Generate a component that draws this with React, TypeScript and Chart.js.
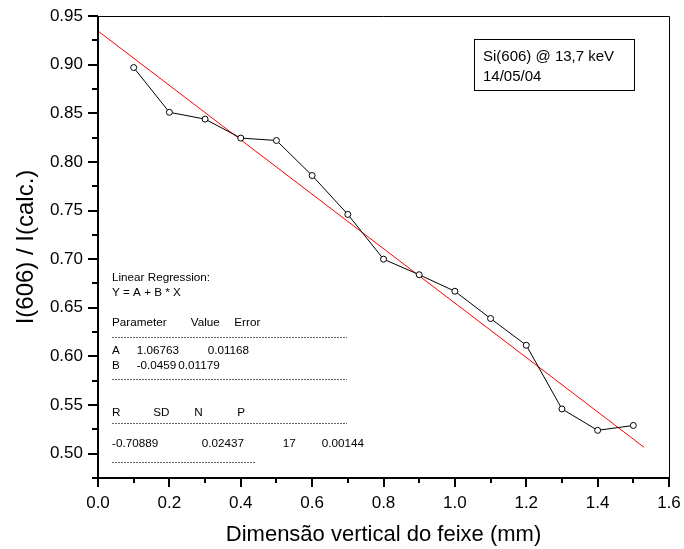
import React, { useEffect, useRef } from "react";
import { Chart, registerables } from "chart.js";

Chart.register(...registerables);

// ---- data ----
const xValues = [0.1, 0.2, 0.3, 0.4, 0.5, 0.6, 0.7, 0.8, 0.9, 1.0, 1.1, 1.2, 1.3, 1.4, 1.5];
const yValues = [0.897, 0.851, 0.844, 0.8245, 0.822, 0.786, 0.746, 0.7, 0.684, 0.667, 0.639, 0.6115, 0.546, 0.524, 0.529];
const fitX = [0, 1.53];
const fitY = [0.9346, 0.5066];

const xMajorTicks = [0, 0.2, 0.4, 0.6, 0.8, 1.0, 1.2, 1.4, 1.6];
const xMinorTicks = [0.1, 0.3, 0.5, 0.7, 0.9, 1.1, 1.3, 1.5];
const yMajorTicks = [0.5, 0.55, 0.6, 0.65, 0.7, 0.75, 0.8, 0.85, 0.9, 0.95];
const yMinorTicks = [0.475, 0.525, 0.575, 0.625, 0.675, 0.725, 0.775, 0.825, 0.875, 0.925];

const xTitle = "Dimensão vertical do feixe (mm)";
const yTitle = "I(606) / I(calc.)";
const boxLines = ["Si(606) @ 13,7 keV", "14/05/04"];

const regTitle = ["Linear Regression:", "Y = A + B * X"];
const paramHeader = ["Parameter", "Value", "Error"];
const paramA = ["A", "1.06763", "0.01168"];
const paramB = ["B", "-0.0459", "0.01179"];
const statHeader = ["R", "SD", "N", "P"];
const statValues = ["-0.70889", "0.02437", "17", "0.00144"];

const FONT = "'Liberation Sans', Arial, Helvetica, sans-serif";

const overlayPlugin = {
  id: "overlay",
  afterDraw(chart: any) {
    const { ctx, chartArea: a, scales } = chart;
    const xs = scales.x;
    const ys = scales.y;
    ctx.save();
    ctx.strokeStyle = "#000";
    ctx.lineWidth = 1;
    ctx.beginPath();
    ctx.moveTo(a.left, a.top + 0.5);
    ctx.lineTo(a.right + 0.5, a.top + 0.5);
    ctx.lineTo(a.right + 0.5, a.bottom);
    ctx.stroke();
    ctx.lineWidth = 2;
    ctx.beginPath();
    ctx.moveTo(a.left, a.top);
    ctx.lineTo(a.left, a.bottom);
    ctx.lineTo(a.right + 1, a.bottom);
    ctx.stroke();
    ctx.lineWidth = 2;
    ctx.beginPath();
    xMajorTicks.forEach((v) => {
      const p = Math.round(xs.getPixelForValue(v));
      ctx.moveTo(p, a.bottom);
      ctx.lineTo(p, a.bottom + 9);
    });
    xMinorTicks.forEach((v) => {
      const p = Math.round(xs.getPixelForValue(v));
      ctx.moveTo(p, a.bottom);
      ctx.lineTo(p, a.bottom + 5);
    });
    yMajorTicks.forEach((v) => {
      const p = Math.round(ys.getPixelForValue(v));
      ctx.moveTo(a.left, p);
      ctx.lineTo(a.left - 10, p);
    });
    yMinorTicks.forEach((v) => {
      const p = Math.round(ys.getPixelForValue(v));
      ctx.moveTo(a.left, p);
      ctx.lineTo(a.left - 6, p);
    });
    ctx.stroke();

    // annotation box
    ctx.lineWidth = 1;
    ctx.strokeRect(474.5, 39.5, 160, 51);
    ctx.fillStyle = "#000";
    ctx.font = `15px ${FONT}`;
    ctx.textBaseline = "alphabetic";
    ctx.textAlign = "left";
    ctx.fillText(boxLines[0], 483, 61);
    ctx.fillText(boxLines[1], 483, 81);

    // regression report
    const x0 = a.left + 14;
    ctx.font = `11.7px ${FONT}`;
    ctx.fillText(regTitle[0], x0, 281);
    ctx.fillText(regTitle[1], x0, 296);
    ctx.fillText(paramHeader[0], x0, 326);
    ctx.fillText(paramHeader[1], 190.7, 326);
    ctx.fillText(paramHeader[2], 234.3, 326);
    ctx.fillText(paramA[0], x0, 354);
    ctx.fillText(paramA[1], 136.7, 354);
    ctx.fillText(paramA[2], 207.7, 354);
    ctx.fillText(paramB[0], x0, 369);
    ctx.fillText(paramB[1], 136.7, 369);
    ctx.fillText(paramB[2], 136.7 + ctx.measureText(paramB[1]).width + 2, 369);
    ctx.fillText(statHeader[0], x0, 416);
    ctx.fillText(statHeader[1], 153.3, 416);
    ctx.fillText(statHeader[2], 194.3, 416);
    ctx.fillText(statHeader[3], 237.3, 416);
    ctx.fillText(statValues[0], x0, 447);
    ctx.fillText(statValues[1], 201.7, 447);
    ctx.fillText(statValues[2], 282.7, 447);
    ctx.fillText(statValues[3], 321.7, 447);

    ctx.strokeStyle = "#666";
    ctx.lineWidth = 1;
    ctx.setLineDash([2, 1]);
    const dash = (y: number, x1: number) => {
      ctx.beginPath();
      ctx.moveTo(x0, y + 0.5);
      ctx.lineTo(x1, y + 0.5);
      ctx.stroke();
    };
    dash(337, 347);
    dash(379, 347);
    dash(423, 347);
    dash(462, 255);
    ctx.restore();
  },
};

export default function App() {
  const ref = useRef<HTMLCanvasElement | null>(null);
  useEffect(() => {
    if (!ref.current) return;
    const chart = new Chart(ref.current, {
      type: "scatter",
      data: {
        datasets: [
          {
            data: xValues.map((x, i) => ({ x, y: yValues[i] })),
            showLine: true,
            borderColor: "#000",
            borderWidth: 1,
            pointRadius: 3,
            pointBorderWidth: 1,
            pointBackgroundColor: "#fff",
            pointBorderColor: "#000",
          },
          {
            data: fitX.map((x, i) => ({ x, y: fitY[i] })),
            showLine: true,
            borderColor: "#ff0000",
            borderWidth: 1,
            pointRadius: 0,
          },
        ],
      },
      options: {
        responsive: false,
        animation: false,
        devicePixelRatio: 1,
        layout: { padding: { top: 16, right: 15, left: 0, bottom: 0 } },
        plugins: { legend: { display: false }, tooltip: { enabled: false } },
        scales: {
          x: {
            type: "linear",
            min: 0,
            max: 1.6,
            grid: { display: false, drawTicks: false },
            border: { display: false },
            afterFit: (s: any) => {
              s.height = 71;
              s.paddingLeft = 0;
              s.paddingRight = 0;
              s.paddingTop = 0;
              s.paddingBottom = 0;
            },
            afterBuildTicks: (s: any) => {
              s.ticks = xMajorTicks.map((v) => ({ value: v }));
            },
            ticks: {
              color: "#000",
              padding: 15,
              maxRotation: 0,
              autoSkip: false,
              font: { family: FONT, size: 17 },
              callback: (v: any) => Number(v).toFixed(1),
            },
            title: {
              display: true,
              text: xTitle,
              color: "#000",
              font: { family: FONT, size: 22 },
              padding: { top: 0, bottom: 0.5 },
            },
          },
          y: {
            type: "linear",
            min: 0.475,
            max: 0.95,
            grid: { display: false, drawTicks: false },
            border: { display: false },
            afterFit: (s: any) => {
              s.width = 98;
              s.paddingLeft = 0;
              s.paddingRight = 0;
              s.paddingTop = 0;
              s.paddingBottom = 0;
            },
            afterBuildTicks: (s: any) => {
              s.ticks = yMajorTicks.map((v) => ({ value: v }));
            },
            ticks: {
              color: "#000",
              padding: 15,
              autoSkip: false,
              font: { family: FONT, size: 17 },
              callback: (v: any) => Number(v).toFixed(2),
            },
            title: {
              display: true,
              text: yTitle,
              color: "#000",
              font: { family: FONT, size: 24 },
              padding: { top: 12, bottom: 0 },
            },
          },
        },
      },
      plugins: [overlayPlugin],
    });
    return () => chart.destroy();
  }, []);
  return (
    <canvas
      ref={ref}
      width={684}
      height={549}
      style={{ position: "fixed", left: 0, top: 0, width: 684, height: 549, background: "#fff" }}
    />
  );
}
